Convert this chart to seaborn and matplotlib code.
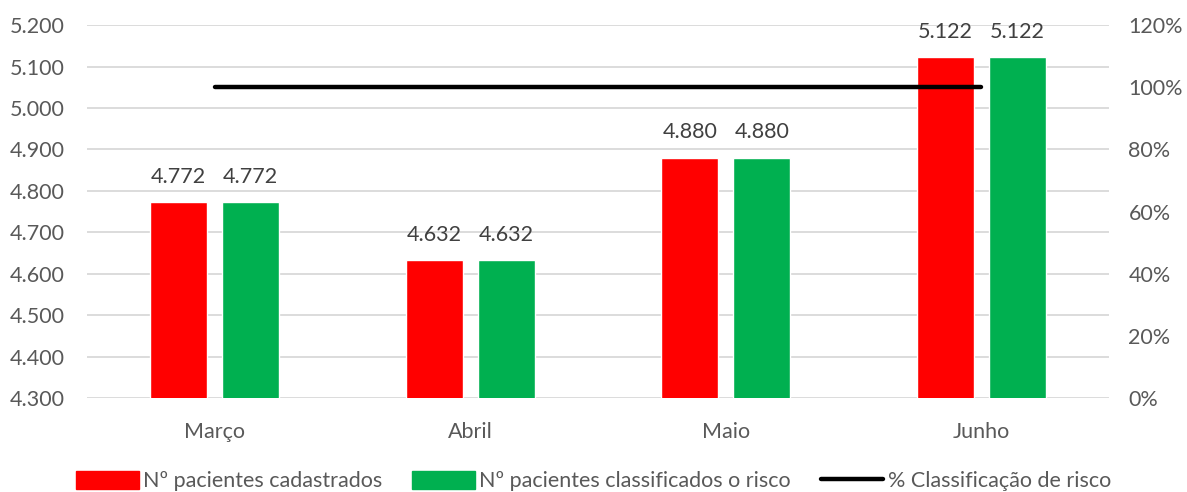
import pandas as pd
import seaborn as sns
import matplotlib.pyplot as plt
from matplotlib.patches import Patch
from matplotlib.lines import Line2D
from matplotlib.ticker import FuncFormatter, MultipleLocator

# data
meses = ['Março', 'Abril', 'Maio', 'Junho']
cadastrados = [4772, 4632, 4880, 5122]
classificados = [4772, 4632, 4880, 5122]
pct_classificacao = [100, 100, 100, 100]

serie_cad = 'Nº pacientes cadastrados'
serie_cla = 'Nº pacientes classificados o risco'
serie_pct = '% Classificação de risco'

df = pd.DataFrame({
    'mes': meses * 2,
    'valor': cadastrados + classificados,
    'serie': [serie_cad] * len(meses) + [serie_cla] * len(meses),
})

sns.set_style('white')
plt.rcParams['font.family'] = ['Lato', 'DejaVu Sans']
cinza = '#595959'
fs = 15.5

fig = plt.figure(figsize=(11.87, 4.92), dpi=100)
ax = fig.add_axes([0.0733, 0.191, 0.861, 0.758])

sns.barplot(data=df, x='mes', y='valor', hue='serie', order=meses,
            palette=['#FF0000', '#00B050'], saturation=1, width=0.564, gap=0.21,
            legend=False, ax=ax, bottom=0)

ax.set_ylim(4300, 5200)
ax.set_xlim(-0.5, 3.5)
ax.yaxis.set_major_locator(MultipleLocator(100))
ax.yaxis.set_major_formatter(FuncFormatter(lambda v, p: f'{v/1000:.3f}'))
ax.grid(axis='y', color='#D9D9D9', linewidth=1.3)
ax.set_axisbelow(True)
for s in ax.spines.values():
    s.set_visible(False)
ax.set_xlabel('')
ax.set_ylabel('')
ax.tick_params(axis='both', colors=cinza, labelsize=fs, length=0)
ax.tick_params(axis='x', pad=17)
ax.tick_params(axis='y', pad=16)

for c in ax.containers:
    ax.bar_label(c, labels=[f'{v/1000:.3f}' for v in c.datavalues],
                 padding=11, fontsize=fs, color='#404040')

ax2 = ax.twinx()
ax2.plot(range(len(meses)), pct_classificacao, color='black', linewidth=3.2,
         solid_capstyle='round')
ax2.set_ylim(0, 120)
ax2.yaxis.set_major_locator(MultipleLocator(20))
ax2.yaxis.set_major_formatter(FuncFormatter(lambda v, p: f'{v:.0f}%'))
ax2.tick_params(axis='y', colors=cinza, labelsize=fs, length=0, pad=14)
for s in ax2.spines.values():
    s.set_visible(False)

handles = [Patch(color='#FF0000', label=serie_cad),
           Patch(color='#00B050', label=serie_cla),
           Line2D([0], [0], color='black', linewidth=3.2, label=serie_pct)]
leg = fig.legend(handles=handles, loc='center', bbox_to_anchor=(0.5, 0.022),
                 ncol=3, frameon=False, fontsize=fs, handlelength=2.9,
                 handleheight=0.9, handletextpad=0.2, columnspacing=1.4)
for t in leg.get_texts():
    t.set_color(cinza)

plt.savefig('out.png', dpi=100)
